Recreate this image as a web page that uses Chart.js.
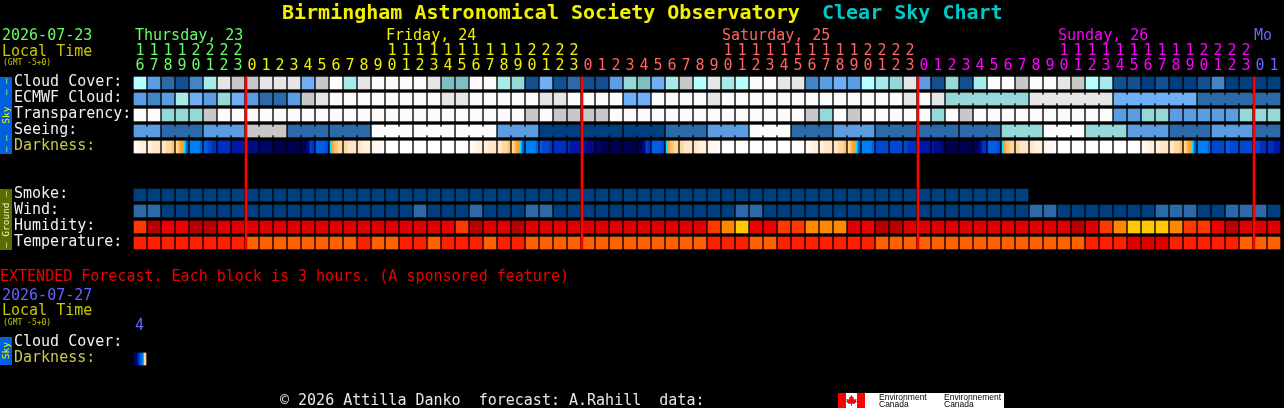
<!DOCTYPE html>
<html>
<head>
<meta charset="utf-8">
<title>Birmingham Astronomical Society Observatory Clear Sky Chart</title>
<script src="https://cdn.jsdelivr.net/npm/chart.js@4/dist/chart.umd.min.js"></script>
<style>
html, body { margin: 0; padding: 0; background: #000; overflow: hidden; }
#wrap { position: relative; width: 1284px; height: 408px; }
canvas { position: absolute; left: 0; top: 0; }
.t { position: absolute; white-space: pre; font: 15px/15px "DejaVu Sans Mono", monospace; }
.tab { position: absolute; left: 0; width: 12px; display: flex; align-items: center; justify-content: center; }
.tab span { writing-mode: vertical-rl; transform: rotate(180deg); white-space: pre; font: 9.5px/12px "DejaVu Sans Mono", monospace; }
#logo { position: absolute; left: 838px; top: 393px; width: 166px; height: 15px; background: #fff; overflow: hidden; }
#logo i { position: absolute; top: 0; height: 15px; width: 8px; background: #ff0000; }
#logo svg { position: absolute; left: 8px; top: 2px; }
#logo b { position: absolute; font: 8.5px/7px "Liberation Sans", sans-serif; color: #000; white-space: pre; }
</style>
</head>
<body>
<div id="wrap">
  <canvas id="csc" width="1284" height="408"></canvas>
  <div class="t" style="left:282px;top:1px;font-size:20px;line-height:22px;font-weight:bold;color:#f0f000">Birmingham Astronomical Society Observatory</div>
  <div class="t" style="left:822px;top:1px;font-size:20px;line-height:22px;font-weight:bold;color:#00c8c8">Clear Sky Chart</div>

  <div class="t" style="left:2px;top:28px;color:#64ff64">2026-07-23</div>
  <div class="t" style="left:2px;top:44px;color:#c8c800">Local Time</div>
  <div class="t" style="left:3px;top:58px;font-size:8px;line-height:9px;color:#c8c800">(GMT -5+0)</div>
  <div class="t" style="left:135px;top:28px;color:#64ff64">Thursday, 23</div>
  <div class="t" style="left:386px;top:28px;color:#f0f000">Friday, 24</div>
  <div class="t" style="left:722px;top:28px;color:#ff6464">Saturday, 25</div>
  <div class="t" style="left:1058px;top:28px;color:#ff00ff">Sunday, 26</div>
  <div class="t" style="left:1254px;top:28px;color:#6464ff">Mo</div>

  <div class="tab" style="top:77px;height:77px;background:#0060e0;color:#f0f000"><span>– –  Sky  – –</span></div>
  <div class="tab" style="top:189px;height:61px;background:#5a6e00;color:#f0f0c8"><span>– Ground –</span></div>
  <div class="tab" style="top:337px;height:28px;background:#0060e0;color:#f0f000"><span>Sky</span></div>

  <div class="t" style="left:0;top:269px;color:#f00000">EXTENDED Forecast. Each block is 3 hours. (A sponsored feature)</div>
  <div class="t" style="left:2px;top:288px;color:#6464ff">2026-07-27</div>
  <div class="t" style="left:2px;top:303px;color:#c8c800">Local Time</div>
  <div class="t" style="left:3px;top:318px;font-size:8px;line-height:9px;color:#c8c800">(GMT -5+0)</div>
  <div class="t" style="left:135px;top:318px;color:#6464ff">4</div>

  <div class="t" style="left:280px;top:393px;color:#e6e6e6">© 2026 Attilla Danko  forecast: A.Rahill  data:</div>
  <div id="logo">
    <i style="left:0"></i><i style="left:19px"></i>
    <svg width="11" height="11" viewBox="0 0 11 11"><path fill="#f00" d="M5.5 0 7 2.5 8 2 7.7 4.5 10.5 4 10 6 11 6.5 8 9 6 8.5V11H5V8.5L3 9 0 6.5 1 6 .5 4 3.3 4.5 3 2 4 2.5Z"/></svg>
    <b style="left:41px;top:1px">Environment</b><b style="left:41px;top:8px">Canada</b>
    <b style="left:106px;top:1px">Environnement</b><b style="left:106px;top:8px">Canada</b>
  </div>
</div>

<script>
// forecast hour of every block, first block is 16:00 thursday
var hours = [16,17,18,19,20,21,22,23,
  0,1,2,3,4,5,6,7,8,9,10,11,12,13,14,15,16,17,18,19,20,21,22,23,
  0,1,2,3,4,5,6,7,8,9,10,11,12,13,14,15,16,17,18,19,20,21,22,23,
  0,1,2,3,4,5,6,7,8,9,10,11,12,13,14,15,16,17,18,19,20,21,22,23,
  0,1];
// block index where a new day starts
var dayStarts = [8,32,56,80];

// all of these are levels, see the palettes below
var cloudCover = [9,4,2,1,3,8,11,10,10,11,11,11,5,10,12,8,11,12,12,12,12,
  11,6,6,12,12,8,7,1,5,1,2,1,1,4,7,6,5,8,10,9,11,8,9,12,12,11,11,3,4,5,4,
  9,8,7,11,4,1,7,1,8,12,12,10,12,12,11,10,9,8,1,1,0,1,0,0,1,3,0,0,0,0];
var ecmwfCloud = [4,3,4,8,5,4,7,5,4,2,2,4,10,11,12,12,12,12,12,12,12,
  12,11,11,12,12,12,12,12,11,11,12,12,12,12,5,5,12,12,12,12,11,12,12,12,12,12,12,12,12,12,12,
  12,12,12,11,12,11,7,7,7,7,7,7,11,11,11,11,11,11,5,5,5,5,5,5,2,2,2,2,2,2];
var transparency = [12,12,7,7,7,10,12,12,12,12,12,12,12,12,12,12,12,12,12,12,12,
  12,12,12,12,12,12,12,10,12,10,10,10,10,12,12,12,12,12,12,12,12,12,12,12,12,12,12,10,7,12,10,
  12,12,12,12,12,7,12,10,12,12,12,12,12,12,12,12,12,12,4,4,7,7,4,4,4,4,4,7,7,7];
var seeing = [4,4,2,2,2,4,4,4,10,10,10,2,2,2,2,2,2,12,12,12,12,12,12,12,12,12,
  4,4,4,0,0,0,0,0,0,0,0,0,2,2,2,4,4,4,12,12,12,2,2,2,4,4,4,2,2,2,2,2,2,2,2,2,
  7,7,7,12,12,12,7,7,7,4,4,4,2,2,2,4,4,4,2,2];
// six stripes per block, each line is 8 blocks
var darkness = [
  0,1,1,2,2,2, 2,2,3,3,3,3, 3,3,4,4,4,5, 4,5,6,6,7,9, 8,8,8,8,8,9, 9,9,10,10,11,11, 11,11,11,11,11,11, 12,12,12,12,12,12,
  13,13,13,13,13,13, 14,14,14,14,14,14, 15,15,15,15,15,15, 15,15,15,15,15,15, 15,15,14,13,10,11, 9,9,9,9,9,10, 7,6,5,5,4,4, 4,4,3,3,3,3,
  3,3,2,2,2,2, 2,1,1,1,1,0, 0,0,0,0,0,0, 0,0,0,0,0,0, 0,0,0,0,0,0, 0,0,0,0,0,0, 0,0,0,0,0,0, 0,0,0,0,0,0,
  0,1,1,2,2,2, 2,2,3,3,3,3, 3,3,4,4,4,5, 4,5,6,6,7,9, 8,8,8,8,8,9, 9,10,10,10,10,11, 11,11,11,11,11,11, 11,12,12,12,12,12,
  12,12,13,13,13,13, 14,14,14,15,15,15, 15,15,15,15,15,15, 15,15,15,15,15,15, 15,15,14,13,10,11, 9,9,9,9,9,10, 7,6,5,5,4,4, 4,4,3,3,3,3,
  3,3,2,2,2,2, 2,1,1,1,1,0, 0,0,0,0,0,0, 0,0,0,0,0,0, 0,0,0,0,0,0, 0,0,0,0,0,0, 0,0,0,0,0,0, 0,0,0,0,0,0,
  0,1,1,2,2,2, 2,2,3,3,3,3, 3,3,4,4,4,5, 4,5,6,6,7,9, 8,8,8,8,8,9, 10,10,10,10,10,10, 10,10,10,10,10,10, 10,10,11,11,11,11,
  11,12,12,12,12,12, 12,13,13,13,13,14, 15,15,15,15,15,15, 15,15,15,15,15,15, 15,15,14,13,11,11, 9,9,9,9,9,10, 7,6,5,5,4,4, 4,4,3,3,3,3,
  3,3,2,2,2,2, 2,1,1,1,1,0, 0,0,0,0,0,0, 0,0,0,0,0,0, 0,0,0,0,0,0, 0,0,0,0,0,0, 0,0,0,0,0,0, 0,0,0,0,0,0,
  0,1,1,2,2,2, 2,2,3,3,3,3, 3,3,4,4,4,5, 4,5,6,6,7,9, 8,8,8,8,8,9, 10,10,10,10,10,10, 9,9,10,10,10,10, 10,10,10,10,10,10,
  10,10,10,11,11,11, 11,11,11,12,12,12
];
var smoke = [0,0,0,0,0,0,0,0,0,0,0,0,0,0,0,0,0,0,0,0,0,0,0,0,0,0,0,0,0,0,0,0,
  0,0,0,0,0,0,0,0,0,0,0,0,0,0,0,0,0,0,0,0,0,0,0,0,0,0,0,0,0,0,0,0];
var wind = [2,2,0,0,0,0,0,0,0,0,0,0,0,0,0,0,0,0,0,0,2,
  0,0,0,2,0,0,0,2,2,0,0,0,0,0,0,0,0,0,0,0,0,0,2,2,0,0,0,0,0,0,0,
  0,0,0,0,0,0,0,0,0,0,0,0,2,2,0,0,0,0,0,0,0,2,2,2,0,0,2,2,2,0];
var humidity = [3,0,2,2,0,0,1,1,1,1,1,1,1,1,1,1,1,1,1,1,1,
  1,2,3,0,1,1,0,1,1,1,1,1,1,1,1,1,1,1,1,1,3,4,5,2,2,3,3,4,4,4,1,
  2,0,0,1,1,1,1,1,1,1,1,1,1,1,1,0,1,3,4,5,5,5,4,3,3,2,0,1,1,1];
var temperature = [1,1,1,1,1,1,1,1,2,2,2,2,2,2,2,2,1,2,2,1,1,
  2,1,1,1,2,1,1,2,2,2,2,2,2,2,2,2,2,2,2,2,1,1,1,2,2,1,1,1,1,1,1,
  1,2,2,2,2,2,2,2,2,2,2,2,2,2,2,2,1,1,1,0,0,0,1,1,1,1,1,2,2,2];
var extendedDarkness = [14,14,11,9,8,4];

var rowLabels = ['Cloud Cover:','ECMWF Cloud:','Transparency:','Seeing:','Darkness:',
  'Smoke:','Wind:','Humidity:','Temperature:','Cloud Cover:','Darkness:'];
var rowValues = [0,1,2,3,4,7,8,9,10,16.25,17.25];

var skyColors = ['#003f7f','#13508f','#2b69a9','#4384c5','#5c9ce3','#6eaff5','#80bfbf','#94d8d8',
  '#a6eaea','#b6ffff','#c8c8c8','#e6e6e6','#fcfcfc'];
var darkColors = ['#ffffff','#fff8f0','#fff0e0','#ffe6c8','#ffd8a0','#ffc070','#ffa030','#00e0ff',
  '#0080f0','#0060e0','#0048d0','#0030c0','#0018a8','#000c88','#000668','#000050'];
var humidColors = ['#b80000','#e00000','#ee0000','#ff3800','#ff8800','#ffc800'];
var tempColors = ['#e00000','#ff2000','#ff6000'];
var dayColors = ['#64ff64','#f0f000','#ff6464','#ff00ff','#6464ff'];

function dayOf(i) {
  var d = 0;
  dayStarts.forEach(function(s) { if (i >= s) d++; });
  return d;
}

function cells(row, levels, palette) {
  return {
    data: levels.map(function(v, i) { return {x: i, y: [row - 0.375, row + 0.375]}; }),
    backgroundColor: levels.map(function(v) { return palette[v]; }),
    barThickness: 12
  };
}

// the small bridges that join blocks of one forecast period
function links(row, levels, palette, joined) {
  var data = [], colors = [];
  levels.forEach(function(v, i) {
    if (i < levels.length - 1 && joined(i)) {
      data.push({x: i + 0.5, y: [row - 0.25, row + 0.25]});
      colors.push(palette[v]);
    }
  });
  return {data: data, backgroundColor: colors, barThickness: 2};
}

function stripes(row, levels) {
  var data = [];
  levels.forEach(function(v, n) {
    var block = Math.floor(n / 6), k = n % 6;
    data.push({x: block + (k - 2.5) / 7, y: [row - 0.375, row + 0.375]});
  });
  return {
    data: data,
    backgroundColor: levels.map(function(v) { return darkColors[v]; }),
    barThickness: 2
  };
}

var datasets = [
  {
    order: -1,
    data: dayStarts.map(function(s) { return {x: s - 3 / 7, y: [-0.375, 10.375]}; }),
    backgroundColor: '#ff0000',
    barThickness: 2
  },
  cells(0, cloudCover, skyColors),
  cells(1, ecmwfCloud, skyColors),
  links(1, ecmwfCloud, skyColors, function(i) { return i >= 58 && (i - 57) % 6 !== 0; }),
  cells(2, transparency, skyColors),
  cells(3, seeing, skyColors),
  links(3, seeing, skyColors, function(i) { return (i - 1) % 3 !== 0; }),
  stripes(4, darkness),
  cells(7, smoke, skyColors),
  cells(8, wind, skyColors),
  cells(9, humidity, humidColors),
  cells(10, temperature, tempColors),
  stripes(17.25, extendedDarkness)
];

new Chart(document.getElementById('csc'), {
  type: 'bar',
  data: {datasets: datasets},
  options: {
    responsive: false,
    animation: false,
    devicePixelRatio: 1,
    layout: {padding: {left: 14, right: 0, top: 0, bottom: 0}},
    datasets: {bar: {grouped: false, borderWidth: 0}},
    plugins: {legend: {display: false}, title: {display: false}, tooltip: {enabled: false}},
    scales: {
      x: {
        type: 'linear',
        position: 'top',
        offset: false,
        min: -0.5,
        max: 1144 / 14,
        grid: {display: false, drawTicks: false},
        border: {display: false},
        afterBuildTicks: function(scale) {
          scale.ticks = hours.map(function(h, i) { return {value: i}; });
        },
        afterFit: function(scale) {
          scale.height = 72;
          scale.paddingLeft = 0;
          scale.paddingRight = 0;
        },
        ticks: {
          autoSkip: false,
          maxRotation: 0,
          minRotation: 0,
          padding: -2,
          font: {family: '"DejaVu Sans Mono", monospace', size: 15, lineHeight: 1},
          color: function(ctx) { return dayColors[dayOf(ctx.index)]; },
          callback: function(value, index) {
            var h = hours[index];
            return [h >= 10 ? String(Math.floor(h / 10)) : '', String(h % 10)];
          }
        }
      },
      y: {
        type: 'linear',
        position: 'left',
        reverse: true,
        min: -11 / 16,
        max: 325 / 16,
        grid: {display: false, drawTicks: false},
        border: {display: false},
        afterBuildTicks: function(scale) {
          scale.ticks = rowValues.map(function(r) { return {value: r - 0.0625}; });
        },
        afterFit: function(scale) {
          scale.width = 119;
          scale.paddingTop = 0;
          scale.paddingBottom = 0;
        },
        ticks: {
          autoSkip: false,
          crossAlign: 'far',
          padding: 0,
          font: {family: '"DejaVu Sans Mono", monospace', size: 15},
          color: function(ctx) { return rowLabels[ctx.index] === 'Darkness:' ? '#c8c850' : '#f0f0f0'; },
          callback: function(value, index) { return rowLabels[index]; }
        }
      }
    }
  }
});
</script>
</body>
</html>
